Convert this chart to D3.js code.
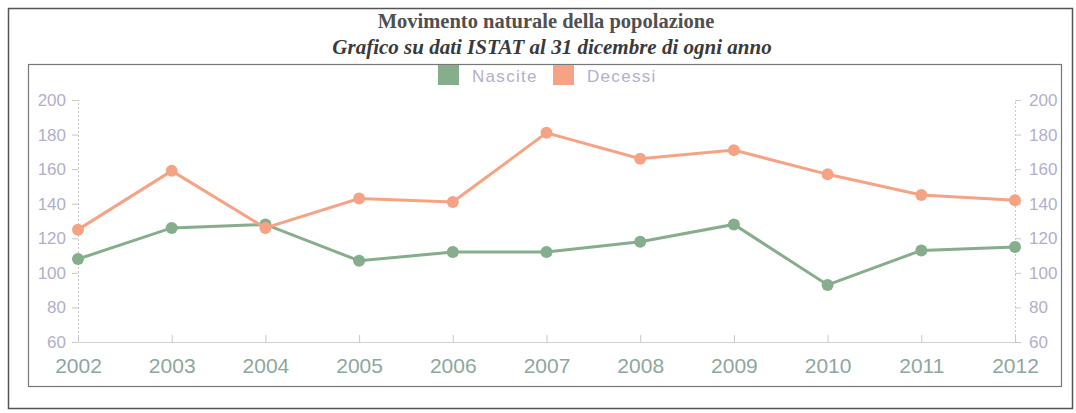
<!DOCTYPE html>
<html>
<head>
<meta charset="utf-8">
<script src="https://cdn.jsdelivr.net/npm/d3@7"></script>
<style>
  body { margin: 0; background: #fff; }
  svg { display: block; }
</style>
</head>
<body>
<svg id="chart"></svg>
<script>
const width = 1076, height = 413

// data
const anni = [2002, 2003, 2004, 2005, 2006, 2007, 2008, 2009, 2010, 2011, 2012]
const nascite = [108, 126, 128, 107, 112, 112, 118, 128, 93, 113, 115]
const decessi = [125, 159, 126, 143, 141, 181, 166, 171, 157, 145, 142]
const yTicks = [60, 80, 100, 120, 140, 160, 180, 200]
const serie = [
    { name: "Nascite", values: nascite, color: "#86ad8c" },
    { name: "Decessi", values: decessi, color: "#f6a385" }
]

const svg = d3.select("#chart")
    .attr("width", width)
    .attr("height", height)

// frames
svg.append("rect")
    .attr("x", 8.5).attr("y", 8.5)
    .attr("width", 1064).attr("height", 400)
    .attr("fill", "none").attr("stroke", "#555").attr("stroke-width", 1.5)
svg.append("rect")
    .attr("x", 28.5).attr("y", 64.5)
    .attr("width", 1033).attr("height", 322)
    .attr("fill", "none").attr("stroke", "#777").attr("stroke-width", 1.2)

// titles
svg.append("text")
    .attr("x", 546).attr("y", 28)
    .attr("text-anchor", "middle")
    .style("font-family", "'Liberation Serif', serif")
    .style("font-weight", "bold")
    .style("font-size", "20.5px")
    .attr("fill", "#505050")
    .text("Movimento naturale della popolazione")
svg.append("text")
    .attr("x", 552).attr("y", 54)
    .attr("text-anchor", "middle")
    .style("font-family", "'Liberation Serif', serif")
    .style("font-weight", "bold")
    .style("font-style", "italic")
    .style("font-size", "21px")
    .attr("fill", "#3a3a3a")
    .text("Grafico su dati ISTAT al 31 dicembre di ogni anno")

// scales
let x = d3.scalePoint().domain(anni).range([78, 1015])
let y = d3.scaleLinear().domain([60, 200]).range([342, 100])

const labelFont = "'Liberation Sans', Arial, sans-serif"

// left axis
let left = svg.append("g")
    .attr("transform", "translate(78,0)")
    .call(d3.axisLeft(y).tickValues(yTicks).tickSize(6).tickPadding(6))
left.select(".domain").attr("stroke", "#c8c8c8").attr("stroke-dasharray", "2,2")
left.selectAll(".tick line").attr("stroke", "#c8c8c8")
left.selectAll(".tick text")
    .attr("fill", "#b3aecb")
    .style("font-family", labelFont)
    .style("font-size", "17px")

// right axis
let right = svg.append("g")
    .attr("transform", "translate(1015,0)")
    .call(d3.axisRight(y).tickValues(yTicks).tickSize(6).tickPadding(8))
right.select(".domain").attr("stroke", "#c8c8c8").attr("stroke-dasharray", "2,2")
right.selectAll(".tick line").attr("stroke", "#c8c8c8")
right.selectAll(".tick text")
    .attr("fill", "#b3aecb")
    .style("font-family", labelFont)
    .style("font-size", "17px")

// bottom axis, ticks pointing up
let bottom = svg.append("g")
    .attr("transform", "translate(0,342)")
    .call(d3.axisBottom(x).tickSize(-7).tickPadding(16).tickSizeOuter(0))
bottom.select(".domain").attr("stroke", "#d0d0d0")
bottom.selectAll(".tick line").attr("stroke", "#c8c8c8")
bottom.selectAll(".tick text")
    .attr("fill", "#8ea79b")
    .style("font-family", labelFont)
    .style("font-size", "21px")

// lines and points
let line = d3.line()
    .x((d, i) => x(anni[i]))
    .y(d => y(d))

let g = svg.append("g")
serie.forEach(s => {
    g.append("path")
        .datum(s.values)
        .attr("fill", "none")
        .attr("stroke", s.color)
        .attr("stroke-width", 3)
        .attr("d", line)
    g.selectAll(null)
        .data(s.values)
        .enter()
        .append("circle")
        .attr("cx", (d, i) => x(anni[i]))
        .attr("cy", d => y(d))
        .attr("r", 6)
        .attr("fill", s.color)
})

// legend
let legend = svg.append("g")
    .style("font-family", labelFont)
    .style("font-size", "17px")
    .style("letter-spacing", "1.3px")
let lx = [438, 553]
serie.forEach((s, i) => {
    legend.append("rect")
        .attr("x", lx[i]).attr("y", 65)
        .attr("width", 21).attr("height", 20)
        .attr("fill", s.color)
    legend.append("text")
        .attr("x", lx[i] + 34).attr("y", 82)
        .attr("fill", "#b4afcb")
        .text(s.name)
})
</script>
</body>
</html>
